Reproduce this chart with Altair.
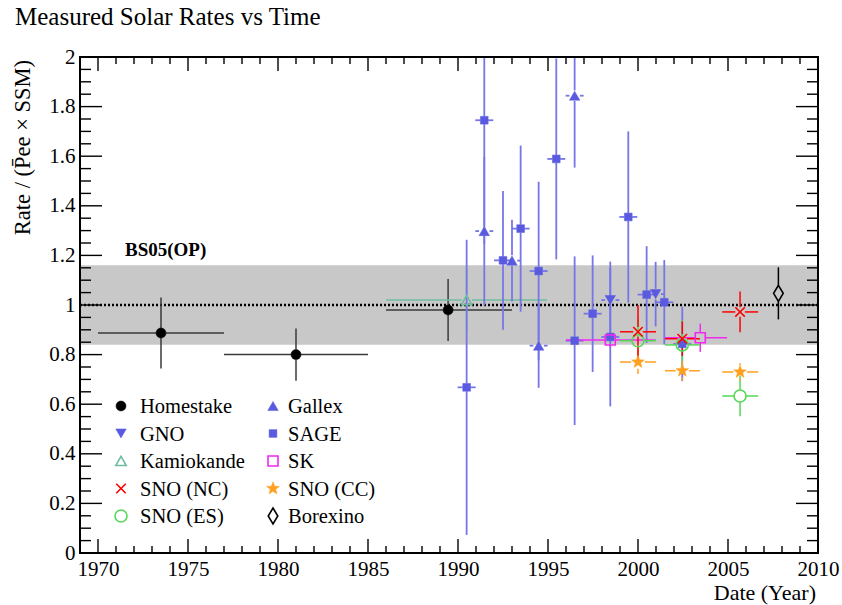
import math
import altair as alt
import pandas as pd

W, H = 738, 496
X0, X1 = 1969, 2010
Y0, Y1 = 0.0, 2.0
FONT = "Liberation Serif"

# ---------------- data ----------------
HOME_YEAR = [1973.5, 1981.0, 1989.45]
HOME_RATE = [0.887, 0.80, 0.98]
HOME_XLO = [1970.0, 1977.0, 1986.0]
HOME_XHI = [1977.0, 1985.0, 1993.0]
HOME_ERR = [0.143, 0.105, 0.125]

KAM_YEAR = [1990.48]
KAM_RATE = [1.02]
KAM_XLO = [1986.0]
KAM_XHI = [1994.95]
KAM_ERR = [0.13]

GAL_YEAR = [1991.46, 1993.0, 1994.48, 1996.48]
GAL_RATE = [1.298, 1.179, 0.836, 1.844]
GAL_ERR = [0.30, 0.165, 0.17, 0.29]

SAGE_YEAR = [1990.48, 1991.46, 1992.5, 1993.48, 1994.48, 1995.46, 1996.48,
             1997.48, 1998.46, 1999.46, 2000.48, 2001.46, 2002.46]
SAGE_RATE = [0.668, 1.745, 1.18, 1.308, 1.137, 1.589, 0.856,
             0.965, 0.871, 1.355, 1.042, 1.011, 0.843]
SAGE_ERR = [0.595, 0.50, 0.28, 0.335, 0.36, 0.405, 0.34,
            0.235, 0.28, 0.345, 0.195, 0.17, 0.15]

GNO_YEAR = [1998.46, 2000.98]
GNO_RATE = [1.02, 1.044]
GNO_ERR = [0.155, 0.13]

SK_YEAR = [1998.46, 2003.46]
SK_RATE = [0.859, 0.868]
SK_XLO = [1996.0, 2001.5]
SK_XHI = [2000.98, 2004.95]
SK_ERR = [0.03, 0.057]

SNO_YEAR = [2000.0, 2002.46, 2005.67]
SNO_XLO = [1999.0, 2001.5, 2004.68]
SNO_XHI = [2001.0, 2003.44, 2006.68]
NC_RATE = [0.892, 0.864, 0.972]
NC_ERR = [0.108, 0.07, 0.082]
ES_RATE = [0.856, 0.839, 0.633]
ES_ERR = [0.09, 0.10, 0.082]
CC_RATE = [0.770, 0.735, 0.730]
CC_ERR = [0.048, 0.04, 0.035]

BX_YEAR = [2007.8]
BX_RATE = [1.047]
BX_ERR = [0.105]

BAND_LO, BAND_HI, BAND_CENTER = 0.84, 1.16, 1.0
BAND_LABEL = "BS05(OP)"

X_MAJOR = list(range(1970, 2011, 5))
X_MINOR = [v for v in range(1970, 2011) if v % 5 != 0]
Y_MAJOR = [0, 0.2, 0.4, 0.6, 0.8, 1, 1.2, 1.4, 1.6, 1.8, 2]
Y_MINOR = [round(0.05 * k, 2) for k in range(41) if k % 4 != 0]

# ---------------- styles ----------------
BLUE = "#5a5ae0"
BLUE_ERR = "#7676e8"
star_pts = []
for k in range(10):
    a = -math.pi / 2 + k * math.pi / 5
    r = 1.0 if k % 2 == 0 else 0.42
    star_pts.append(f"{r*math.cos(a):.3f},{r*math.sin(a):.3f}")
STAR = "M" + "L".join(star_pts) + "Z"
XSHAPE = "M-1,-1L1,1M-1,1L1,-1"
DIAMOND = "M0,-1L0.6,0L0,1L-0.6,0Z"

SERIES = {
    "Homestake": dict(year=HOME_YEAR, rate=HOME_RATE, xlo=HOME_XLO, xhi=HOME_XHI, err=HOME_ERR,
                      shape="circle", filled=True, color="black", ecolor="#3a3a3a", size=100),
    "Kamiokande": dict(year=KAM_YEAR, rate=KAM_RATE, xlo=KAM_XLO, xhi=KAM_XHI, err=KAM_ERR,
                       shape="triangle-up", filled=False, color="#70bca0", ecolor="#70bca0", size=110),
    "Gallex": dict(year=GAL_YEAR, rate=GAL_RATE, xlo=[v - 0.5 for v in GAL_YEAR],
                   xhi=[v + 0.5 for v in GAL_YEAR], err=GAL_ERR,
                   shape="triangle-up", filled=True, color=BLUE, ecolor=BLUE_ERR, size=110),
    "SAGE": dict(year=SAGE_YEAR, rate=SAGE_RATE, xlo=[v - 0.5 for v in SAGE_YEAR],
                 xhi=[v + 0.5 for v in SAGE_YEAR], err=SAGE_ERR,
                 shape="square", filled=True, color=BLUE, ecolor=BLUE_ERR, size=60),
    "GNO": dict(year=GNO_YEAR, rate=GNO_RATE, xlo=[v - 0.5 for v in GNO_YEAR],
                xhi=[v + 0.5 for v in GNO_YEAR], err=GNO_ERR,
                shape="triangle-down", filled=True, color=BLUE, ecolor=BLUE_ERR, size=110),
    "SK": dict(year=SK_YEAR, rate=SK_RATE, xlo=SK_XLO, xhi=SK_XHI, err=SK_ERR,
               shape="square", filled=False, color="#f028f0", ecolor="#f028f0", size=100),
    "SNO (NC)": dict(year=SNO_YEAR, rate=NC_RATE, xlo=SNO_XLO, xhi=SNO_XHI, err=NC_ERR,
                     shape=XSHAPE, filled=False, color="#ff0000", ecolor="#ff0000", size=90),
    "SNO (ES)": dict(year=SNO_YEAR, rate=ES_RATE, xlo=SNO_XLO, xhi=SNO_XHI, err=ES_ERR,
                     shape="circle", filled=False, color="#55d855", ecolor="#55d855", size=144),
    "SNO (CC)": dict(year=SNO_YEAR, rate=CC_RATE, xlo=SNO_XLO, xhi=SNO_XHI, err=CC_ERR,
                     shape=STAR, filled=True, color="#ffa01e", ecolor="#ffa01e", size=180),
    "Borexino": dict(year=BX_YEAR, rate=BX_RATE, xlo=BX_YEAR, xhi=BX_YEAR, err=BX_ERR,
                     shape=DIAMOND, filled=False, color="black", ecolor="black", size=256),
}
DRAW_ORDER = ["Homestake", "Kamiokande", "Gallex", "SAGE", "GNO", "SK",
              "SNO (ES)", "SNO (CC)", "SNO (NC)", "Borexino"]
LEGEND_ORDER = ["Homestake", "Gallex", "GNO", "SAGE", "Kamiokande", "SK",
                "SNO (NC)", "SNO (CC)", "SNO (ES)", "Borexino"]

xs = alt.Scale(domain=[X0, X1], nice=False, zero=False)
ys = alt.Scale(domain=[Y0, Y1], nice=False, zero=False)
XAXIS = alt.Axis(values=X_MAJOR, format="d", ticks=False, domain=False, grid=False,
                 labelFont=FONT, labelFontSize=21, labelColor="black", labelPadding=5,
                 labelFlush=False, labelOverlap=False, title=None)
YAXIS = alt.Axis(values=Y_MAJOR, format="~g", ticks=False, domain=False, grid=False,
                 labelFont=FONT, labelFontSize=21, labelColor="black", labelPadding=5,
                 labelFlush=False, labelOverlap=False, title=None)

def X(f):
    return alt.X(f, type="quantitative", scale=xs, axis=XAXIS)

def Y(f):
    return alt.Y(f, type="quantitative", scale=ys, axis=YAXIS)

layers = []

# band and reference line
band_df = pd.DataFrame({"lo": [BAND_LO], "hi": [BAND_HI], "c": [BAND_CENTER]})
layers.append(alt.Chart(band_df).mark_rect(color="#c8c8c8").encode(
    x=alt.value(0), x2=alt.value(W), y=Y("lo"), y2=alt.Y2("hi")))
layers.append(alt.Chart(band_df).mark_rule(color="black", strokeWidth=2.6, strokeDash=[2, 2]).encode(
    x=alt.value(0), x2=alt.value(W), y=Y("c")))

def marker(s):
    kw = dict(shape=s["shape"], size=s["size"], opacity=1)
    if s["filled"]:
        kw.update(filled=True, fill=s["color"], stroke=s["color"], strokeWidth=0.5)
    else:
        kw.update(filled=False, stroke=s["color"], strokeWidth=1.6, fillOpacity=0)
    return kw

px_per_x = W / (X1 - X0)
px_per_y = H / (Y1 - Y0)

for name in DRAW_ORDER:
    s = SERIES[name]
    gap = math.sqrt(s["size"]) / 2
    gx, gy = gap / px_per_x, gap / px_per_y
    rows = []
    for i in range(len(s["year"])):
        x, y, e = s["year"][i], s["rate"][i], s["err"][i]
        if y - e < y - gy:
            rows.append(dict(x=x, x2=x, y=y - e, y2=y - gy))
        if y + e > y + gy:
            rows.append(dict(x=x, x2=x, y=y + gy, y2=y + e))
        if s["xlo"][i] < x - gx:
            rows.append(dict(x=s["xlo"][i], x2=x - gx, y=y, y2=y))
        if s["xhi"][i] > x + gx:
            rows.append(dict(x=x + gx, x2=s["xhi"][i], y=y, y2=y))
    seg = pd.DataFrame(rows)
    sw = 1.8 if s["ecolor"] == BLUE_ERR else 1.5
    layers.append(alt.Chart(seg).mark_rule(color=s["ecolor"], strokeWidth=sw, clip=True).encode(
        x=X("x"), x2=alt.X2("x2"), y=Y("y"), y2=alt.Y2("y2")))

for name in DRAW_ORDER:
    s = SERIES[name]
    pts = pd.DataFrame({"year": s["year"], "rate": s["rate"]})
    layers.append(alt.Chart(pts).mark_point(clip=True, **marker(s)).encode(
        x=X("year"), y=Y("rate")))

# band label
layers.append(alt.Chart(band_df).mark_text(text=BAND_LABEL, font=FONT, fontSize=19, fontWeight="bold",
                                           align="left", baseline="alphabetic", color="black").encode(
    x=alt.value(45), y=alt.value(199)))

# legend
for i, name in enumerate(LEGEND_ORDER):
    s = SERIES[name]
    col, row = i % 2, i // 2
    mx = 41 if col == 0 else 193
    tx = 60 if col == 0 else 208
    ly = 349 + 27.5 * row
    one = pd.DataFrame({"label": [name]})
    layers.append(alt.Chart(one).mark_point(**marker(s)).encode(x=alt.value(mx), y=alt.value(ly)))
    layers.append(alt.Chart(one).mark_text(font=FONT, fontSize=20.5, align="left", baseline="middle",
                                           color="black").encode(
        x=alt.value(tx), y=alt.value(ly + 1), text="label:N"))

# ticks (inside frame, all four sides)
def xticks(vals, length):
    d = pd.DataFrame({"t": vals})
    a = alt.Chart(d).mark_rule(color="black", strokeWidth=1.4).encode(
        x=X("t"), y=alt.value(H), y2=alt.value(H - length))
    b = alt.Chart(d).mark_rule(color="black", strokeWidth=1.4).encode(
        x=X("t"), y=alt.value(0), y2=alt.value(length))
    return [a, b]

def yticks(vals, length):
    d = pd.DataFrame({"t": vals})
    a = alt.Chart(d).mark_rule(color="black", strokeWidth=1.4).encode(
        y=Y("t"), x=alt.value(0), x2=alt.value(length))
    b = alt.Chart(d).mark_rule(color="black", strokeWidth=1.4).encode(
        y=Y("t"), x=alt.value(W), x2=alt.value(W - length))
    return [a, b]

layers += xticks(X_MAJOR, 14) + xticks(X_MINOR, 7)
layers += yticks(Y_MAJOR, 22) + yticks(Y_MINOR, 11)

# frame
layers.append(alt.Chart(band_df).mark_rect(fillOpacity=0, stroke="black", strokeWidth=2).encode(
    x=alt.value(0), x2=alt.value(W), y=alt.value(0), y2=alt.value(H)))

# titles
titles = pd.DataFrame({"t": ["Measured Solar Rates vs Time", "Rate / (P\u0304ee \u00d7 SSM)", "Date (Year)"]})
layers.append(alt.Chart(titles.iloc[[0]]).mark_text(font=FONT, fontSize=25, align="left",
                                                    baseline="alphabetic", color="black").encode(
    x=alt.value(-65), y=alt.value(-32), text="t:N"))
layers.append(alt.Chart(titles.iloc[[1]]).mark_text(font=FONT, fontSize=22.5, align="right", angle=270,
                                                    baseline="alphabetic", color="black").encode(
    x=alt.value(-50), y=alt.value(3), text="t:N"))
layers.append(alt.Chart(titles.iloc[[2]]).mark_text(font=FONT, fontSize=22, align="right",
                                                    baseline="alphabetic", color="black").encode(
    x=alt.value(736), y=alt.value(543), text="t:N"))

chart = alt.layer(*layers).properties(
    width=W, height=H, autosize="none",
    padding={"left": 80, "top": 57, "right": 24, "bottom": 52},
    background="white",
).configure_view(stroke=None)

chart.save("out.html", embed_options={"renderer": "svg", "actions": False})
